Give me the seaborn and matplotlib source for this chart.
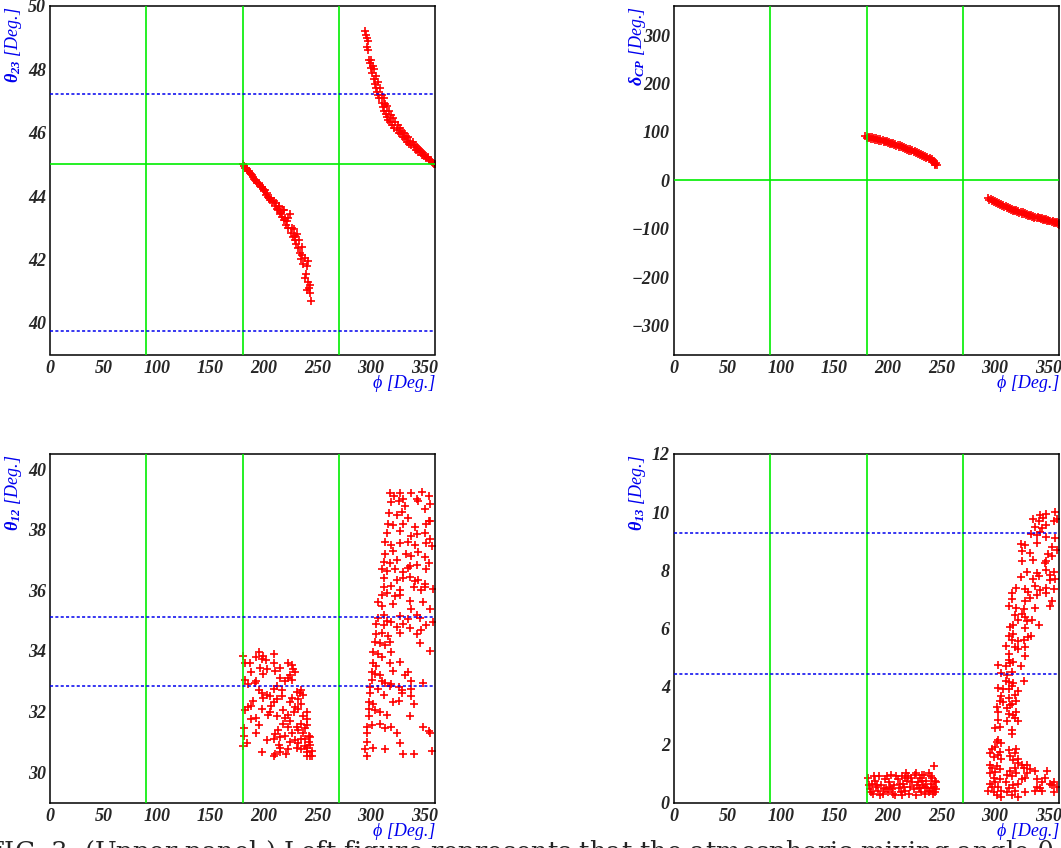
import matplotlib
matplotlib.use("Agg")
import matplotlib.pyplot as plt
import matplotlib.ticker as ticker
import seaborn as sns
import numpy as np

# --- datos (phi, angulo) ---
pts_t23_a = [(180,45.0),(181,44.95),(182,44.9),(183,44.88),(184,44.85),(185,44.8),(186,44.78),(187,44.72),
             (188,44.7),(189,44.65),(190,44.6),(191,44.55),(192,44.52),(193,44.48),(194,44.42),(195,44.4),
             (196,44.35),(197,44.3),(198,44.28),(199,44.22),(200,44.15),(201,44.2),(202,44.05),(203,44.1),
             (204,43.98),(205,43.95),(206,43.88),(207,43.95),(208,43.8),(209,43.85),(210,43.7),(211,43.78),
             (212,43.6),(213,43.55),(214,43.65),(215,43.45),(216,43.5),(217,43.35),(218,43.55),(219,43.25),
             (220,43.3),(221,43.1),(222,43.2),(223,43.0),(224,43.45),(225,42.85),(226,43.0),(227,42.7),
             (228,42.95),(229,42.6),(230,42.5),(231,42.8),(232,42.35),(233,42.6),(234,42.2),(235,42.0),
             (236,42.4),(237,41.85),(238,42.05),(239,41.55),(240,41.8),(241,41.3),(242,41.1),(243,40.95),
             (244,40.7),(236,42.15),(229,42.75),(223,43.3),(238,41.4),(241,41.95),(243,41.2),(240,41.05),
             (219,43.55),(214,43.7)]
pts_t23_b = [(295,49.2),(295.5,49.1),(296,49.0),(296,48.7),(297,48.6),(297.5,48.9),(298,48.3),(299,48.2),
             (300,48.05),(300,48.3),(301,47.9),(302,48.1),(303,47.7),(303,48.0),(304,47.55),(305,47.8),
             (305,47.4),(306,47.3),(307,47.6),(307,47.2),(308,47.1),(309,47.4),(310,46.95),(310,47.2),
             (311,46.8),(312,47.1),(312,46.7),(313,46.9),(314,46.6),(315,46.85),(315,46.5),(316,46.4),
             (317,46.7),(318,46.35),(319,46.55),(320,46.25),(321,46.45),(322,46.15),(323,46.35),(324,46.1),
             (325,46.25),(326,46.0),(327,46.15),(328,45.95),(329,46.05),(330,45.85),(331,46.0),(332,45.8),
             (333,45.9),(334,45.7),(335,45.85),(336,45.65),(337,45.75),(338,45.6),(339,45.7),(340,45.55),
             (341,45.6),(342,45.45),(343,45.55),(344,45.4),(345,45.5),(346,45.38),(347,45.42),(348,45.3),
             (349,45.35),(350,45.25),(351,45.3),(352,45.2),(353,45.22),(354,45.15),(355,45.15),(356,45.1),
             (357,45.08),(358,45.05),(359,45.02),(360,45.0)]

pts_dcp_a = [(179,91),(180,88),(181,90),(182,87),(183,89.5),(184,86),(185,88.5),(186,85.5),(187,87.5),
             (188,84),(189,86.5),(190,83),(191,85),(192,82),(193,84.5),(194,80.5),(195,83),(196,79.5),
             (197,81.5),(198,78),(199,80.5),(200,76.5),(201,79),(202,75.5),(203,77.5),(204,74),(205,76.5),
             (206,72.5),(207,75),(208,71),(209,73.5),(210,69.5),(211,72),(212,68),(213,70.5),(214,66),
             (215,69),(216,64.5),(217,67),(218,63),(219,65.5),(220,61),(221,64),(222,59.5),(223,62),
             (224,57.5),(225,60),(226,56),(227,58.5),(228,54),(229,56.5),(230,52),(231,55),(232,50),
             (233,53),(234,48),(235,50.5),(236,45.5),(237,48.5),(238,43.5),(239,46),(240,41),(241,43.5),
             (242,38.5),(243,40),(244,34.5),(245,36),(246,31),(244.5,32.5)]
pts_dcp_b = [(294,-36.5),(295,-40),(296,-38),(297,-42),(298,-40.5),(299,-44.5),(300,-42.5),(301,-47),
             (302,-45),(303,-49),(304,-47),(305,-52),(306,-49.5),(307,-53.5),(308,-51.5),(309,-56),
             (310,-53.5),(311,-57.5),(312,-55.5),(313,-60),(314,-57),(315,-61.5),(316,-59),(317,-63),
             (318,-60.5),(319,-64.5),(320,-62),(321,-66),(322,-63.5),(323,-67.5),(324,-65),(325,-69),
             (326,-66.5),(327,-70.5),(328,-68),(329,-72),(330,-69.5),(331,-73),(332,-71),(333,-74.5),
             (334,-72.5),(335,-75.5),(336,-73.5),(337,-77),(338,-75),(339,-78),(340,-76),(341,-79),
             (342,-77.5),(343,-80.5),(344,-78.5),(345,-81.5),(346,-79.5),(347,-82.5),(348,-81),(349,-84),
             (350,-82),(351,-85),(352,-83.5),(353,-86),(354,-84.5),(355,-87.5),(356,-86),(357,-88.5),
             (358,-87),(359,-90),(360,-88.5),(360,-91.5)]

pts_t12_a = [(180,33.85),(195,33.95),(199,33.85),(209,33.9),(193,33.8),(198,33.75),(202,33.7),
             (182,33.6),(187,33.6),(209,33.6),(223,33.6),(226,33.55),(196,33.45),(203,33.4),(210,33.35),
             (215,33.45),(227,33.4),(188,33.3),(199,33.25),(224,33.2),(229,33.3),(182,33.05),(193,33.0),
             (215,33.1),(220,33.0),(223,33.1),(226,33.05),(185,32.9),(192,32.95),(212,32.85),(195,32.7),
             (209,32.75),(217,32.7),(231,32.65),(235,32.7),(198,32.6),(203,32.55),(206,32.5),(234,32.6),
             (237,32.55),(199,32.45),(212,32.4),(217,32.5),(226,32.45),(232,32.4),(190,32.35),(209,32.3),
             (224,32.3),(235,32.25),(185,32.15),(188,32.2),(207,32.2),(229,32.15),(182,32.05),(198,32.1),
             (206,32.0),(218,32.05),(228,32.0),(232,32.1),(240,32.0),(204,31.9),(212,31.85),(223,31.9),
             (237,31.85),(188,31.75),(193,31.8),(220,31.8),(224,31.7),(240,31.75),(195,31.55),(218,31.6),
             (231,31.5),(235,31.6),(240,31.55),(181,31.45),(213,31.4),(223,31.5),(232,31.4),(238,31.45),
             (193,31.3),(210,31.25),(226,31.3),(237,31.3),(242,31.2),(181,31.2),(215,31.15),(220,31.2),
             (235,31.1),(243,31.15),(203,31.05),(209,31.1),(224,31.0),(229,31.05),(238,31.1),(242,31.0),
             (184,30.95),(214,30.9),(232,30.95),(238,30.85),(243,30.9),(215,30.8),(223,30.75),(231,30.8),
             (235,30.75),(240,30.8),(245,30.7),(198,30.65),(210,30.6),(215,30.65),(221,30.6),(240,30.65),
             (243,30.55),(209,30.55),(240,30.55),(245,30.55),(180,30.85)]
pts_t12_b = [(318,39.2),(322,39.1),(327,39.2),(330,39.0),(338,39.2),(343,39.0),(348,39.25),(354,39.1),
             (319,38.9),(326,38.95),(332,38.8),(344,38.95),(355,38.85),(317,38.55),(324,38.5),(329,38.6),
             (335,38.4),(351,38.7),(355,38.3),(316,38.2),(321,38.15),(330,38.2),(341,38.1),(352,38.2),
             (354,38.3),(315,37.9),(327,37.95),(338,37.8),(343,37.85),(351,37.9),(355,37.7),(313,37.6),
             (319,37.5),(327,37.55),(335,37.6),(341,37.5),(352,37.55),(357,37.45),(313,37.2),(321,37.3),
             (333,37.2),(338,37.15),(344,37.25),(351,37.1),(312,36.95),(318,36.9),(324,37.0),(337,36.8),
             (343,36.85),(354,36.9),(310,36.7),(315,36.65),(323,36.7),(330,36.6),(335,36.75),(352,36.7),
             (312,36.4),(324,36.35),(330,36.4),(337,36.45),(341,36.3),(344,36.35),(351,36.2),(312,36.1),
             (319,36.15),(327,36.0),(340,36.1),(347,36.0),(351,36.1),(358,36.05),(310,35.85),(315,35.9),
             (323,35.8),(327,35.85),(307,35.6),(310,35.5),(321,35.55),(337,35.65),(338,35.4),(349,35.6),
             (355,35.4),(307,35.1),(312,35.2),(315,35.0),(327,35.15),(335,35.05),(343,35.2),(346,35.1),
             (305,34.9),(312,34.85),(319,34.95),(324,34.8),(330,34.9),(337,34.75),(352,34.85),(358,34.95),
             (305,34.55),(310,34.6),(316,34.5),(327,34.6),(343,34.55),(347,34.7),(304,34.3),(309,34.25),
             (313,34.2),(318,34.3),(346,34.25),(302,33.95),(307,33.9),(310,33.8),(319,33.95),(355,34.0),
             (302,33.6),(305,33.5),(318,33.6),(327,33.65),(301,33.3),(304,33.25),(309,33.2),(321,33.35),
             (332,33.2),(335,33.3),(301,33.05),(310,33.0),(313,32.95),(319,32.9),(338,33.0),(349,32.95),
             (299,32.8),(307,32.75),(318,32.85),(326,32.8),(329,32.7),(338,32.75),(299,32.6),(312,32.55),
             (329,32.6),(338,32.5),(298,32.3),(302,32.25),(321,32.3),(326,32.35),(340,32.25),(298,32.1),
             (304,32.05),(309,32.0),(298,31.85),(315,31.9),(337,31.85),(296,31.5),(301,31.55),(309,31.6),
             (313,31.45),(319,31.5),(349,31.5),(354,31.35),(296,31.3),(324,31.3),(355,31.3),(296,31.0),
             (327,30.95),(294.5,30.75),(302,30.8),(313,30.75),(357,30.7),(296,30.55),(330,30.6),(340,30.6)]

pts_t13_a = [(181,0.85),(183,0.45),(185,0.65),(186,0.3),(188,0.75),(189,0.55),(191,0.4),(192,0.9),
             (194,0.6),(195,0.3),(197,0.8),(198,0.5),(200,0.35),(201,0.7),(203,0.95),(204,0.45),(206,0.6),
             (207,0.25),(209,0.8),(210,0.5),(212,0.35),(213,0.9),(214,0.65),(216,0.4),(217,1.0),(218,0.75),
             (220,0.3),(221,0.55),(222,0.85),(224,0.45),(225,0.95),(226,0.25),(228,0.7),(229,0.5),
             (230,0.85),(231,0.35),(233,0.6),(234,0.95),(235,0.3),(236,0.75),(237,0.5),(238,1.0),(239,0.4),
             (240,0.65),(241,0.85),(242,0.3),(243,1.25),(243,0.55),(244,0.75),(245,0.45),(190,0.6),
             (199,0.9),(205,0.3),(211,0.65),(219,0.9),(227,0.6),(232,0.75),(238,0.35),(182,0.6),(196,0.45),
             (208,0.9),(215,0.55),(223,0.7),(230,0.5),(240,0.9),(244,0.35),(187,0.9),(202,0.55),(213,0.25),
             (226,1.0),(235,0.55),(241,0.5),(184,0.35),(193,0.25),(216,0.85),(232,0.95),(245,0.7)]
pts_t13_b = [(342,9.9),(348,9.95),(356,10.0),(336,9.75),(341,9.7),(345,9.8),(355,9.7),(358,9.75),
             (338,9.5),(344,9.45),(348,9.55),(334,9.25),(339,9.2),(342,9.3),(348,9.15),(356,9.1),
             (324,8.9),(328,8.85),(339,8.95),(353,8.8),(358,8.7),(325,8.65),(333,8.6),(350,8.55),(353,8.5),
             (325,8.3),(336,8.35),(347,8.25),(348,8.3),(330,7.95),(339,7.9),(348,8.0),(352,7.85),(355,7.95),
             (324,7.75),(336,7.7),(341,7.8),(352,7.65),(356,7.7),(320,7.4),(328,7.35),(338,7.45),(342,7.3),
             (348,7.4),(355,7.35),(316,7.2),(331,7.25),(339,7.15),(348,7.2),(316,7.0),(328,6.95),(333,7.05),
             (353,6.95),(313,6.75),(320,6.7),(327,6.65),(338,6.7),(352,6.75),(319,6.45),(325,6.5),(328,6.4),
             (322,6.3),(330,6.25),(335,6.3),(314,6.05),(317,6.1),(328,6.0),(341,6.1),(313,5.75),(317,5.8),
             (331,5.7),(334,5.75),(316,5.6),(322,5.55),(327,5.6),(310,5.4),(319,5.35),(322,5.3),(328,5.35),
             (313,5.1),(328,5.05),(313,4.9),(317,4.85),(303,4.75),(310,4.7),(314,4.8),(324,4.7),(306,4.45),
             (311,4.4),(316,4.5),(310,4.2),(313,4.15),(317,4.1),(327,4.2),(303,3.95),(308,3.9),(313,3.9),
             (316,4.0),(322,3.85),(306,3.65),(313,3.6),(319,3.7),(305,3.5),(308,3.45),(316,3.4),(320,3.5),
             (302,3.3),(311,3.25),(314,3.35),(303,3.1),(313,3.05),(317,3.0),(320,3.1),(303,2.85),(311,2.8),
             (319,2.9),(322,2.8),(300,2.55),(305,2.6),(316,2.5),(316,2.35),(302,2.1),(303,2.15),(306,2.05),
             (297,1.85),(300,1.9),(313,1.8),(320,1.85),(295.5,1.7),(303,1.65),(305,1.75),(314,1.6),(319,1.7),
             (299,1.55),(306,1.5),(317,1.45),(322,1.5),(295.5,1.3),(302,1.25),(322,1.35),(325,1.3),(330,1.3),
             (297,1.2),(305,1.15),(314,1.1),(319,1.2),(327,1.2),(333,1.15),(338,1.1),(349,1.1),(295.5,1.0),
             (300,1.05),(311,0.95),(320,1.0),(330,1.0),(299,0.85),(305,0.8),(316,0.9),(325,0.8),(328,0.85),
             (339,0.8),(347,0.85),(295.5,0.65),(300,0.7),(310,0.7),(322,0.65),(344,0.7),(352,0.65),(355,0.7),
             (297,0.55),(303,0.55),(313,0.5),(317,0.6),(339,0.55),(342,0.5),(353,0.6),(358,0.55),(294,0.4),
             (299,0.35),(306,0.4),(311,0.35),(319,0.4),(328,0.35),(338,0.4),(344,0.4),(355,0.35),(302,0.25),
             (306,0.2),(316,0.25),(322,0.2)]

phi_grid = [90, 180, 270]
ref_h = {0: [45], 1: [0], 2: [], 3: []}
ref_dash = {0: [47.22, 39.75], 1: [], 2: [35.12, 32.83], 3: [9.27, 4.42]}

paneles = [
    (pts_t23_a + pts_t23_b, r'$\theta_{23}$ [Deg.]', (39, 50), 2, 0.5),
    (pts_dcp_a + pts_dcp_b, r'$\delta_{CP}$ [Deg.]', (-360, 360), 100, 20),
    (pts_t12_a + pts_t12_b, r'$\theta_{12}$ [Deg.]', (29, 40.5), 2, 0.5),
    (pts_t13_a + pts_t13_b, r'$\theta_{13}$ [Deg.]', (0, 12), 2, 0.5),
]

# --- estilo tipo ROOT ---
sns.set_style("white")
plt.rcParams['font.family'] = ['Liberation Serif', 'DejaVu Serif']
plt.rcParams['font.weight'] = 'bold'
plt.rcParams['font.style'] = 'italic'
plt.rcParams['mathtext.fontset'] = 'custom'
plt.rcParams['mathtext.rm'] = 'Liberation Serif:bold:italic'
plt.rcParams['mathtext.it'] = 'Liberation Serif:bold:italic'
plt.rcParams['mathtext.bf'] = 'Liberation Serif:bold:italic'

W, H = 1061, 848
fig = plt.figure(figsize=(W / 100, H / 100), dpi=100)
posiciones = [(50, 6), (674, 6), (50, 454), (674, 454)]
ancho, alto = 385, 348.5

for i, (pts, etiqueta, ylim, mayor, menor) in enumerate(paneles):
    x0, y0 = posiciones[i]
    ax = fig.add_axes([x0 / W, 1 - (y0 + alto) / H, ancho / W, alto / H])
    arr = np.array(pts)
    sns.scatterplot(x=arr[:, 0], y=arr[:, 1], marker='+', color='#ff0000', s=38,
                    linewidth=1.2, ax=ax, zorder=2)
    for v in phi_grid:
        ax.axvline(v, color='#00ee00', lw=1.2, zorder=3)
    for h in ref_h[i]:
        ax.axhline(h, color='#00ee00', lw=1.2, zorder=3)
    for h in ref_dash[i]:
        ax.axhline(h, color='#0000ee', lw=1.1, ls=(0, (2, 1.5)), zorder=3)

    ax.set_xlim(0, 360)
    ax.set_ylim(*ylim)
    ax.xaxis.set_major_locator(ticker.MultipleLocator(50))
    ax.xaxis.set_minor_locator(ticker.MultipleLocator(10))
    ax.yaxis.set_major_locator(ticker.MultipleLocator(mayor))
    ax.yaxis.set_minor_locator(ticker.MultipleLocator(menor))
    ax.yaxis.set_major_formatter(ticker.FuncFormatter(lambda v, p: f'{v:g}'.replace('-', '\u2212')))
    ax.tick_params(which='both', direction='in', top=False, right=False, color='black',
                   labelsize=13)
    ax.tick_params(which='major', length=7.5, width=1.0)
    ax.tick_params(which='minor', length=3.6, width=1.0)
    ax.tick_params(axis='x', pad=4)
    ax.tick_params(axis='y', pad=3)
    for s in ax.spines.values():
        s.set_color('black')
        s.set_linewidth(1.1)

    ax.set_ylabel(etiqueta, loc='top', color='#0000ee', fontsize=13)
    ax.yaxis.set_label_coords(-0.068, 1.0)
    ax.set_xlabel('ϕ [Deg.]', loc='right', color='#0000ee', fontsize=13)
    ax.xaxis.set_label_coords(1.0, -0.06)

# pie de figura, recortado por el borde inferior como en la imagen original
fig.text(-14 / W, 1 - 860 / H,
         'FIG. 3: (Upper panel:) Left figure represents that the atmospheric mixing angle θ$_{23}$ a',
         fontsize=18.5, fontweight='normal', fontstyle='normal', family=['DejaVu Serif'],
         va='baseline', ha='left')

fig.savefig('out.png', dpi=100)
